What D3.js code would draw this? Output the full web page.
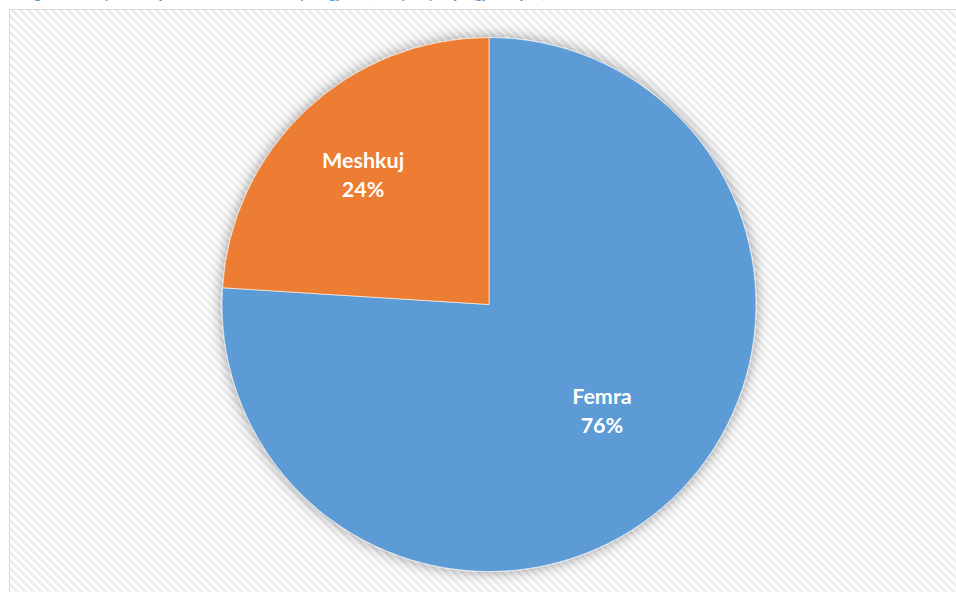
<!DOCTYPE html>
<html>
<head>
<meta charset="utf-8">
<script src="https://cdn.jsdelivr.net/npm/d3@7"></script>
<style>
  html, body { margin: 0; padding: 0; background: #fff; }
  svg { display: block; }
</style>
</head>
<body>
<svg id="chart" width="956" height="592"></svg>
<script>
// ---------------------------------------------
// Data
// ---------------------------------------------
let categories = ['Femra', 'Meshkuj'];
let shares = [76, 24];
let sliceColors = ['#5b9bd5', '#ed7d31'];
let captionText = 'Figura 1. Shpërndarja e të anketuarve sipas gjinisë, në përqindje (gjithsej, n)';

// ---------------------------------------------
// Layout
// ---------------------------------------------
let width = 956;
let height = 592;
let cx = 489;
let cy = 304.5;
let radius = 267;

// where each label sits: fraction of the radius, then a small nudge
let labelFactor = [0.585, 0.70];
let labelNudge = [[6, -7], [2, 7]];

let svg = d3.select('#chart');
let defs = svg.append('defs');

// Diagonal hatch used for the plot background
let hatch = defs.append('pattern')
    .attr('id', 'hatch')
    .attr('patternUnits', 'userSpaceOnUse')
    .attr('width', 5.66)
    .attr('height', 5.66)
    .attr('patternTransform', 'rotate(-45)');
hatch.append('rect')
    .attr('width', 5.66).attr('height', 5.66)
    .attr('fill', '#ffffff');
hatch.append('rect')
    .attr('width', 2.8).attr('height', 5.66)
    .attr('fill', '#ececec');

// Soft glow shadow round the pie
let glow = defs.append('filter')
    .attr('id', 'glow')
    .attr('x', '-20%').attr('y', '-20%')
    .attr('width', '140%').attr('height', '140%');
glow.append('feGaussianBlur')
    .attr('in', 'SourceAlpha')
    .attr('stdDeviation', 7)
    .attr('result', 'blur');
glow.append('feFlood').attr('flood-color', '#000').attr('flood-opacity', 0.4);
glow.append('feComposite').attr('in2', 'blur').attr('operator', 'in').attr('result', 'shadow');
let merge = glow.append('feMerge');
merge.append('feMergeNode').attr('in', 'shadow');
merge.append('feMergeNode').attr('in', 'SourceGraphic');

// Cut-off caption above the chart (only descenders show)
svg.append('text')
    .attr('x', 22)
    .attr('y', -2)
    .attr('font-family', 'Lato, "Open Sans", sans-serif')
    .attr('font-style', 'italic')
    .attr('font-size', 17)
    .attr('fill', '#5b9bd5')
    .text(captionText);

// Chart area frame
svg.append('rect')
    .attr('x', 9.5)
    .attr('y', 9.5)
    .attr('width', width + 10)
    .attr('height', height + 10)
    .attr('fill', 'url(#hatch)')
    .attr('stroke', '#d9d9d9')
    .attr('stroke-width', 1);

// ---------------------------------------------
// Pie
// ---------------------------------------------
let pie = d3.pie().sort(null).value((d) => d);
let arcs = pie(shares);

let arc = d3.arc().innerRadius(0).outerRadius(radius);

let g = svg.append('g')
    .attr('transform', `translate(${cx},${cy})`);

g.append('g')
    .attr('filter', 'url(#glow)')
    .selectAll('path')
    .data(arcs)
    .join('path')
    .attr('d', arc)
    .attr('fill', (d, i) => sliceColors[i])
    .attr('stroke', '#ffffff')
    .attr('stroke-opacity', 0.6)
    .attr('stroke-width', 1);

// Labels
let labels = g.selectAll('text.label')
    .data(arcs)
    .join('text')
    .attr('class', 'label')
    .attr('text-anchor', 'middle')
    .attr('font-family', 'Lato, "Open Sans", sans-serif')
    .attr('font-weight', 'bold')
    .attr('font-size', 21.5)
    .attr('fill', '#ffffff')
    .attr('transform', (d, i) => {
      let r = radius * labelFactor[i];
      let c = d3.arc().innerRadius(r).outerRadius(r).centroid(d);
      return `translate(${c[0] + labelNudge[i][0]},${c[1] + labelNudge[i][1]})`;
    });

labels.append('tspan')
    .attr('x', 0)
    .attr('y', -7)
    .text((d, i) => categories[i]);

labels.append('tspan')
    .attr('x', 0)
    .attr('y', 22)
    .text((d, i) => d3.format('.0f')(shares[i]) + '%');
</script>
</body>
</html>
